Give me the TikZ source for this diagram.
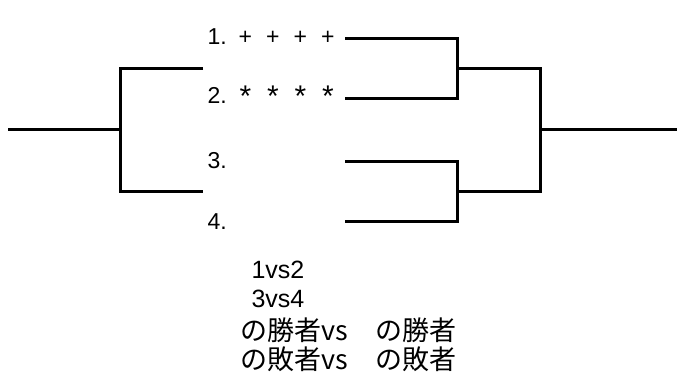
\documentclass[tikz,border=0pt]{standalone}
\usepackage{fontspec}
\setmainfont{Liberation Sans}
\newfontfamily\jpfont{Noto Sans CJK JP}
\newcommand\pick[1]{\makebox[27.5pt]{#1}}
\newcommand\aster{\raisebox{-3pt}{\scalebox{1.3}{*}}}

\begin{document}
\begin{tikzpicture}[x=1pt,y=-1pt,
   line width=3pt,
   every node/.style={inner sep=0pt,anchor=base west},
   seed/.style={font=\fontsize{23}{27}\selectfont},
   score/.style={font=\fontsize{25}{29}\selectfont},
   note/.style={font=\jpfont\fontsize{27}{30}\selectfont}]

\useasboundingbox (0,0) rectangle (677,372);

% entries
\node[seed] (p1) at (206,44) {1.\hspace{5pt}\pick{+}\pick{+}\pick{+}\pick{+}};
\node[seed] (p2) at (206,103) {2.\hspace{5pt}\pick{\aster}\pick{\aster}\pick{\aster}\pick{\aster}};
\node[seed] (p3) at (206,168) {3.};
\node[seed] (p4) at (206,229) {4.};

\coordinate (a1) at (345,38);
\coordinate (a2) at (345,98);
\coordinate (a3) at (345,161);
\coordinate (a4) at (345,221);
\coordinate (w1) at (457,68);
\coordinate (w2) at (457,191);
\coordinate (champ) at (540,129);
\coordinate (out) at (677,129);

\coordinate (in) at (8,129);
\coordinate (lc) at (120,129);
\coordinate (l1) at (203,68);
\coordinate (l2) at (203,191);

% right side
\draw (a1) -| (w1) |- (a2);
\draw (a3) -| (w2) |- (a4);
\draw (w1) -| (champ) |- (w2);
\draw (champ) -- (out);

% left side
\draw (l1) -| (lc) |- (l2);
\draw (in) -- (lc);

% notes
\node[score] (v1) at (250,278) {1vs2};
\node[score] (v2) at (250,307) {3vs4};
\node[note] (n1) at (239,340) {の勝者vs　の勝者};
\node[note] (n2) at (239,369) {の敗者vs　の敗者};

\end{tikzpicture}
\end{document}
